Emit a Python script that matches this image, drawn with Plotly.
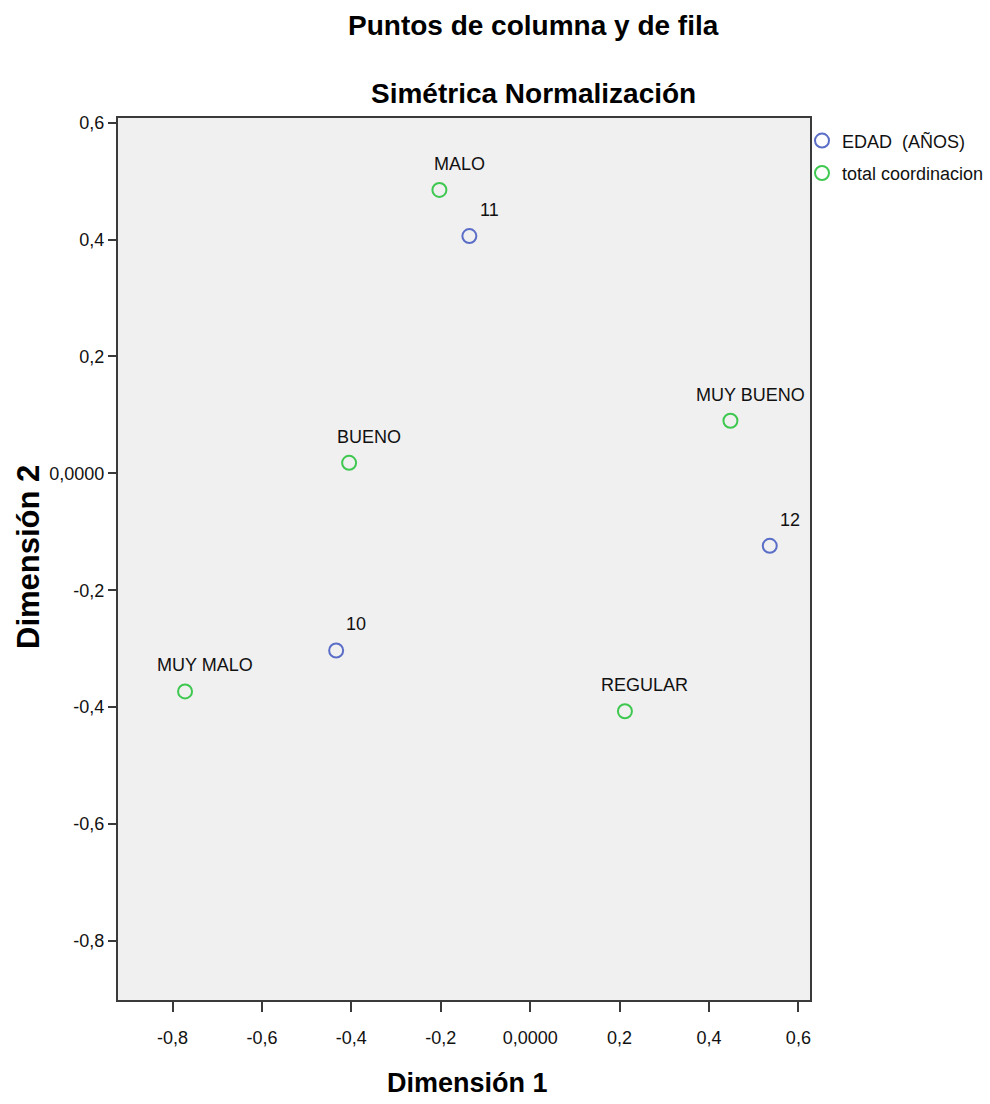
import plotly.graph_objects as go

# Data
edad_labels = ["11", "12", "10"]
edad_x = [-0.136, 0.536, -0.434]
edad_y = [0.406, -0.124, -0.303]

coord_labels = ["MALO", "MUY BUENO", "BUENO", "MUY MALO", "REGULAR"]
coord_x = [-0.203, 0.448, -0.405, -0.772, 0.212]
coord_y = [0.485, 0.090, 0.018, -0.373, -0.407]

x_ticks = [-0.8, -0.6, -0.4, -0.2, 0.0, 0.2, 0.4, 0.6]
x_ticktext = ["-0,8", "-0,6", "-0,4", "-0,2", "0,0000", "0,2", "0,4", "0,6"]
y_ticks = [0.6, 0.4, 0.2, 0.0, -0.2, -0.4, -0.6, -0.8]
y_ticktext = ["0,6", "0,4", "0,2", "0,0000", "-0,2", "-0,4", "-0,6", "-0,8"]

FONT = "Liberation Sans, Arial, sans-serif"

BLUE = "#5a6ec8"
GREEN = "#3ec850"

fig = go.Figure()
fig.add_trace(go.Scatter(
    x=edad_x, y=edad_y, mode="markers", name="EDAD  (AÑOS)",
    legendgroup="a",
    marker=dict(symbol="circle-open", size=14, color=BLUE, line=dict(width=2, color=BLUE)),
))
fig.add_trace(go.Scatter(
    x=coord_x, y=coord_y, mode="markers", name="total coordinacion",
    legendgroup="b",
    marker=dict(symbol="circle-open", size=14, color=GREEN, line=dict(width=2, color=GREEN)),
))

annotations = []
for lbls, xs, ys in [(edad_labels, edad_x, edad_y), (coord_labels, coord_x, coord_y)]:
    for t, xv, yv in zip(lbls, xs, ys):
        annotations.append(dict(
            x=xv, y=yv, xref="x", yref="y", text=t, showarrow=False,
            xanchor="center", yanchor="middle", xshift=20, yshift=26,
            font=dict(family=FONT, size=18, color="#111111"),
        ))

# Titles
annotations.append(dict(x=(533 - 118) / 692, y=(1000 - 25) / 882, xref="paper", yref="paper",
                        text="<b>Puntos de columna y de fila</b>", showarrow=False,
                        xanchor="center", yanchor="middle",
                        font=dict(family=FONT, size=28, color="#000000")))
annotations.append(dict(x=(533 - 118) / 692, y=(1000 - 93) / 882, xref="paper", yref="paper",
                        text="<b>Simétrica Normalización</b>", showarrow=False,
                        xanchor="center", yanchor="middle",
                        font=dict(family=FONT, size=28, color="#000000")))
# Axis titles
annotations.append(dict(x=(467 - 118) / 692, y=(1000 - 1083) / 882, xref="paper", yref="paper",
                        text="<b>Dimensión 1</b>", showarrow=False,
                        xanchor="center", yanchor="middle",
                        font=dict(family=FONT, size=27, color="#000000")))
annotations.append(dict(x=(28 - 118) / 692, y=(1000 - 557) / 882, xref="paper", yref="paper",
                        text="<b>Dimensión 2</b>", showarrow=False, textangle=-90,
                        xanchor="center", yanchor="middle",
                        font=dict(family=FONT, size=31, color="#000000")))

fig.update_layout(
    width=990, height=1104,
    margin=dict(l=118, r=180, t=118, b=104, autoexpand=False),
    paper_bgcolor="white",
    plot_bgcolor="#f0f0f0",
    annotations=annotations,
    showlegend=True,
    legend=dict(x=(802 - 118) / 692, y=0.995, xanchor="left", yanchor="top",
                bgcolor="rgba(0,0,0,0)", tracegroupgap=6,
                traceorder="grouped",
                font=dict(family=FONT, size=18, color="#111111"),
                itemwidth=30),
    xaxis=dict(range=[-0.922, 0.626], tickvals=x_ticks, ticktext=x_ticktext,
               showgrid=False, zeroline=False, showline=True, mirror=True,
               linecolor="#3a3a3a", linewidth=2, ticks="outside", ticklen=10,
               tickwidth=2, tickcolor="#3a3a3a", ticklabelstandoff=10,
               tickfont=dict(family=FONT, size=18, color="#111111")),
    yaxis=dict(range=[-0.901, 0.608], tickvals=y_ticks, ticktext=y_ticktext,
               showgrid=False, zeroline=False, showline=True, mirror=True,
               linecolor="#3a3a3a", linewidth=2, ticks="outside", ticklen=8,
               tickwidth=2, tickcolor="#3a3a3a",
               tickfont=dict(family=FONT, size=18, color="#111111")),
)

fig.write_html("out.html")
